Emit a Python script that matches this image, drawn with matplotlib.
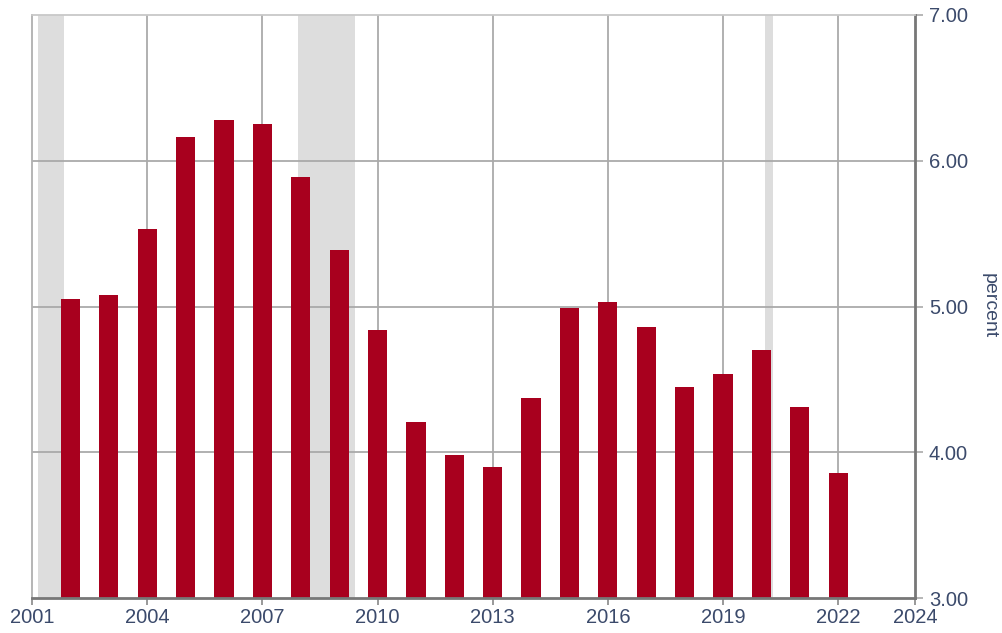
import matplotlib.pyplot as plt

# data
years = list(range(2002, 2023))
values = [5.05, 5.08, 5.53, 6.16, 6.28, 6.25, 5.89, 5.39, 4.84, 4.21, 3.98,
          3.90, 4.37, 4.99, 5.03, 4.86, 4.45, 4.54, 4.70, 4.31, 3.86]
recessions = [(2001.15, 2001.83), (2007.92, 2009.42), (2020.08, 2020.29)]
x_ticks = [2001, 2004, 2007, 2010, 2013, 2016, 2019, 2022, 2024]
y_ticks = [3, 4, 5, 6, 7]

bar_color = "#a8001e"
text_color = "#3b4a6b"

plt.rcParams['font.family'] = ['Liberation Sans', 'DejaVu Sans']

fig = plt.figure(figsize=(10.02, 6.33), dpi=100)
ax = fig.add_axes([32 / 1002, 1 - 598 / 633, (915 - 32) / 1002, (598 - 15) / 633])

# recession shading
for start, end in recessions:
    ax.axvspan(start, end, color="#dddddd", lw=0, zorder=0)

# grid
for x in x_ticks[1:-1]:
    ax.axvline(x, color="#aaaaaa", lw=1.3, zorder=1)
for y in y_ticks[1:-1]:
    ax.axhline(y, color="#aaaaaa", lw=1.3, zorder=1)

ax.bar(years, [v - 3 for v in values], bottom=3, width=0.5,
       color=bar_color, zorder=2)

ax.set_xlim(2001, 2024)
ax.set_ylim(3, 7)

ax.set_xticks(x_ticks)
ax.set_xticklabels([str(x) for x in x_ticks])
ax.yaxis.tick_right()
ax.set_yticks(y_ticks)
ax.set_yticklabels(["%.2f" % y for y in y_ticks])

ax.tick_params(axis="x", length=5, width=1.2, color="#888888", pad=2,
               labelsize=14.5, labelcolor=text_color)
ax.tick_params(axis="y", length=6, width=1.2, color="#aaaaaa", pad=4,
               labelsize=14.5, labelcolor=text_color)

# axis title sits at the far right edge
fig.text(989 / 1002, 1 - 306 / 633, "percent", rotation=270, color=text_color,
         fontsize=14, ha="center", va="center")

ax.spines["top"].set_color("#c8c8c8")
ax.spines["top"].set_linewidth(1.3)
ax.spines["left"].set_color("#b0b0b0")
ax.spines["left"].set_linewidth(1.3)
ax.spines["bottom"].set_color("#777777")
ax.spines["bottom"].set_linewidth(2)
ax.spines["right"].set_color("#777777")
ax.spines["right"].set_linewidth(2)

fig.savefig("out.png", dpi=100)
